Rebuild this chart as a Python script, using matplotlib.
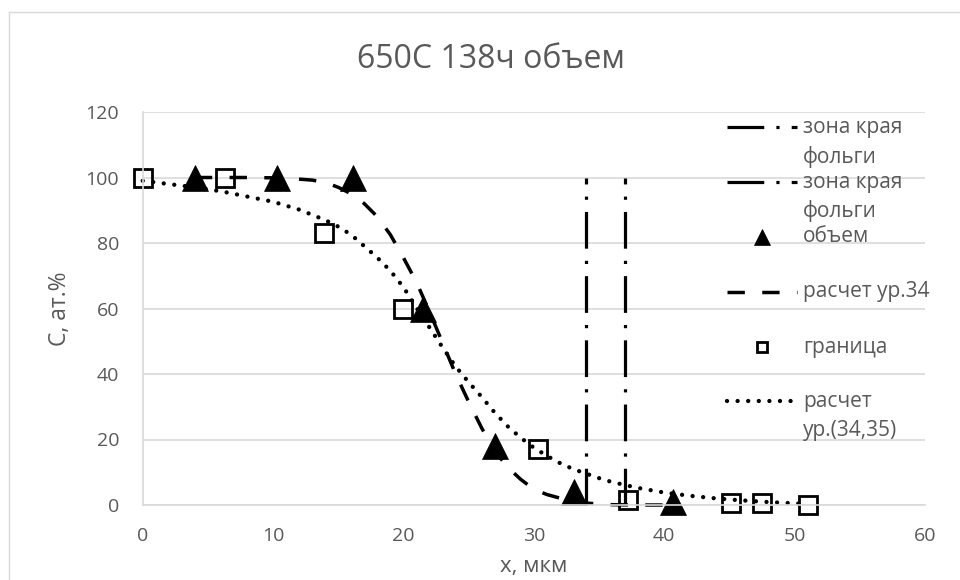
import numpy as np
import matplotlib
matplotlib.use("Agg")
import matplotlib.pyplot as plt
from matplotlib.lines import Line2D

plt.rcParams['font.family'] = ['Open Sans', 'DejaVu Sans']

# ---- data ----
title = "650С 138ч объем"
x_label = "x, мкм"
y_label = "С, ат.%"

edge1_x = [34, 34]
edge1_y = [0, 100]
edge2_x = [37, 37]
edge2_y = [0, 100]

bulk_x = [4.0, 10.3, 16.1, 21.5, 27.0, 33.1, 40.7]
bulk_y = [100, 100, 100, 60, 18, 4, 1]

calc34_x = [4, 8, 10, 12, 13, 14, 15, 16, 17, 18, 19, 20, 21, 22, 23, 24, 25, 26,
            27, 28, 29, 30, 31, 32, 33, 34, 35, 36, 38, 40]
calc34_y = [100, 100, 99.9, 99.5, 99.2, 98.5, 97, 95, 92, 88, 82.5, 75.5, 68, 59,
            49.5, 40, 31.5, 23.5, 16.5, 11.5, 7.8, 4.8, 3.2, 2.1, 1.2, 0.6, 0.3,
            0.1, 0, 0]

bound_x = [0, 6.3, 13.9, 20.0, 30.3, 37.2, 45.1, 47.5, 51.0]
bound_y = [100, 100, 83, 60, 17, 1.5, 0.7, 0.5, 0]

calc3435_x = [0, 2, 4, 6, 8, 10, 12, 14, 15, 16, 17, 18, 19, 20, 21, 22, 23, 24,
              25, 26, 27, 28, 29, 30, 31, 32, 33, 34, 35, 36, 38, 40, 42, 44, 46,
              48, 50, 51]
calc3435_y = [99, 98, 97, 95.8, 94.2, 92.6, 90.2, 87, 85, 82.5, 79, 75.5, 71.5,
              66.5, 60.2, 54.2, 48.1, 42.3, 37.5, 33, 28.2, 24, 20.5, 17.5, 15,
              12.8, 11, 9.6, 8.2, 7, 5.2, 3.8, 2.8, 2, 1.4, 0.9, 0.5, 0.3]

legend_labels = ["зона края\nфольги", "зона края\nфольги", "объем",
                 "расчет ур.34", "граница", "расчет\nур.(34,35)"]

x_ticks = [0, 10, 20, 30, 40, 50, 60]
y_ticks = [0, 20, 40, 60, 80, 100, 120]

# ---- styles ----
txt = '#595959'
grid = '#D9D9D9'
edge_style = dict(color='black', lw=2.3, linestyle=(0, (11.5, 3.8, 1, 3.8)))
bulk_style = dict(linestyle='none', marker='^', color='black', ms=18.5, mew=0.5)
c34_style = dict(color='black', lw=2.5, linestyle=(0, (5, 5)))
bound_style = dict(linestyle='none', marker='s', mfc='none', mec='black', ms=12.5, mew=2)
c3435_style = dict(color='black', lw=3.1, linestyle=(0, (0.01, 2.45)),
                   dash_capstyle='round')

W, H = 960, 580
fig = plt.figure(figsize=(W / 100, H / 100), dpi=100)
ax = fig.add_axes([142.7 / W, 1 - 505 / H, (925 - 142.7) / W, (505 - 112) / H])

ax.plot(edge1_x, edge1_y, clip_on=False, **edge_style)
ax.plot(edge2_x, edge2_y, clip_on=False, **edge_style)
ax.plot(bulk_x, bulk_y, clip_on=False, **bulk_style)
ax.plot(calc34_x, calc34_y, clip_on=False, **c34_style)
ax.plot(bound_x, bound_y, clip_on=False, **bound_style)
ax.plot(calc3435_x, calc3435_y, clip_on=False, **c3435_style)

ax.set_xlim(0, 60)
ax.set_ylim(0, 120)
ax.set_xticks(x_ticks)
ax.set_yticks(y_ticks)
ax.yaxis.grid(True, color=grid, lw=1.2)
ax.set_axisbelow(True)
for s in ['top', 'right']:
    ax.spines[s].set_visible(False)
for s in ['left', 'bottom']:
    ax.spines[s].set_color(grid)
    ax.spines[s].set_linewidth(1.2)
ax.tick_params(axis='both', length=0, labelsize=14, labelcolor=txt)
ax.tick_params(axis='y', pad=17)
ax.tick_params(axis='x', pad=16)

ax.set_xlabel(x_label, fontsize=16, color=txt)
ax.xaxis.set_label_coords(0.5, (505 - 572) / 393)
ax.xaxis.label.set_va('baseline')
ax.set_ylabel(y_label, fontsize=16.5, color=txt)
ax.yaxis.set_label_coords((60 - 142.7) / 782.3, 0.5)
ax.yaxis.label.set_va('center')

fig.text(491 / W, 1 - 59 / H, title, fontsize=23, color=txt, ha='center', va='center')

# chart area border (runs off the right and bottom of the picture)
fig.add_artist(Line2D([9 / W, 9 / W], [1 - 12 / H, 0], color=grid, lw=1))
fig.add_artist(Line2D([9 / W, 1], [1 - 12 / H, 1 - 12 / H], color=grid, lw=1))

# legend, drawn the way the spreadsheet lays it out
handles = [edge_style, edge_style, bulk_style, c34_style, bound_style, c3435_style]
row_y = [127, 182, 237, 292, 347, 401]
for lab, st, yy in zip(legend_labels, handles, row_y):
    fy = 1 - yy / H
    st = dict(st)
    if st.get('marker'):
        st['ms'] = 11 if st['marker'] == '^' else 7.6
        fig.add_artist(Line2D([762 / W], [fy], **st))
    else:
        fig.add_artist(Line2D([727 / W, 797 / W], [fy, fy], **st))
    for j, line in enumerate(lab.split('\n')):
        fig.text(803 / W, 1 - (yy + j * 29.5) / H, line, fontsize=15, color=txt,
                 ha='left', va='center')

fig.savefig('out.png', dpi=100)
